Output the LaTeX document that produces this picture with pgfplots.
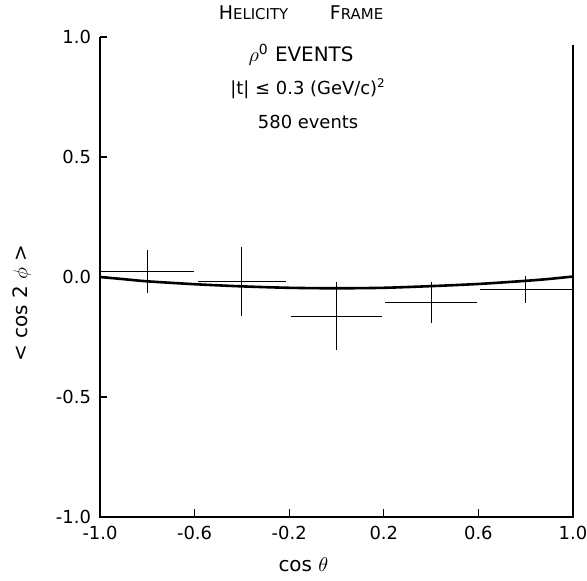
\documentclass[border=0pt]{standalone}
\usepackage{pgfplots}
\pgfplotsset{compat=1.18}
\usepackage{fontspec}
\setmainfont{DejaVu Sans}
\begin{document}
\begin{tikzpicture}
\path[use as bounding box] (-50bp,-32bp) rectangle (243.5bp,258.5bp);
\begin{axis}[
  at={(0,0)}, anchor=south west,
  scale only axis, width=236.5bp, height=240bp,
  xmin=-1, xmax=1, ymin=-1, ymax=1,
  axis line style={draw=none},
  xtick={-1,-0.6,-0.2,0.2,0.6,1},
  xticklabels={-1.0,-0.6,-0.2,0.2,0.6,1.0},
  ytick={-1,-0.5,0,0.5,1},
  yticklabels={-1.0,-0.5,0.0,0.5,1.0},
  xtick pos=bottom, ytick pos=left,
  tick align=inside,
  major tick length=0bp,
  tick label style={font=\fontsize{9}{11}\selectfont},
  yticklabel style={xshift=-1bp},
  xticklabel style={yshift=-1bp},
  clip=false,
]
\draw[line width=0.6bp] (axis cs:-1,1) -- (axis cs:-1,-1) -- (axis cs:1,-1) -- (axis cs:1,0.967);
\pgfplotsinvokeforeach{-0.6,-0.2,0.2,0.6}{
  \draw[line width=0.6bp] (axis cs:#1,-1) -- (axis cs:#1,-0.967);
}
\pgfplotsinvokeforeach{-0.5,0,0.5,1}{
  \draw[line width=0.6bp] (axis cs:-1,#1) -- (axis cs:-0.972,#1);
}
\addplot[draw=none, mark=none,
  error bars/.cd, x dir=both, x explicit, y dir=both, y explicit,
  error mark=none, error bar style={draw=black, solid, line width=0.5bp}]
  coordinates {
  (-0.8,0.022) +- (0.198,0.089)
  (-0.4,-0.018) +- (0.185,0.145)
  (0.0,-0.163) +- (0.193,0.142)
  (0.4,-0.107) +- (0.195,0.085)
  (0.8,-0.052) +- (0.195,0.055)
  };
\addplot[black, line width=1.3bp, smooth] coordinates {
  (-1.0,0.0) (-0.9,-0.009) (-0.8,-0.018) (-0.6,-0.030) (-0.4,-0.039)
  (-0.2,-0.045) (0.0,-0.047) (0.2,-0.045) (0.4,-0.038) (0.6,-0.029)
  (0.8,-0.016) (0.9,-0.008) (1.0,0.002)
};
\node[font=\fontsize{9.5}{11}\selectfont] at (axis cs:-0.15,1.1)
  {H{\fontsize{7.5}{9}\selectfont ELICITY}\hspace{2.2em}F{\fontsize{7.5}{9}\selectfont RAME}};
\node[font=\fontsize{10}{12}\selectfont] at (axis cs:-0.15,0.925) {$\rho^{\mathrm{0}}$ EVENTS};
\node[font=\fontsize{9}{11}\selectfont] at (axis cs:-0.12,0.785) {|t| ≤ 0.3 (GeV/c)\textsuperscript{2}};
\node[font=\fontsize{9}{11}\selectfont] at (axis cs:-0.12,0.645) {580 events};
\node[font=\fontsize{10}{12}\selectfont] at (axis cs:-0.14,-1.2) {cos $\theta$};
\node[font=\fontsize{10}{12}\selectfont, rotate=90] at (axis cs:-1.33,-0.11) {< cos 2 $\phi$ >};
\end{axis}
\end{tikzpicture}
\end{document}
